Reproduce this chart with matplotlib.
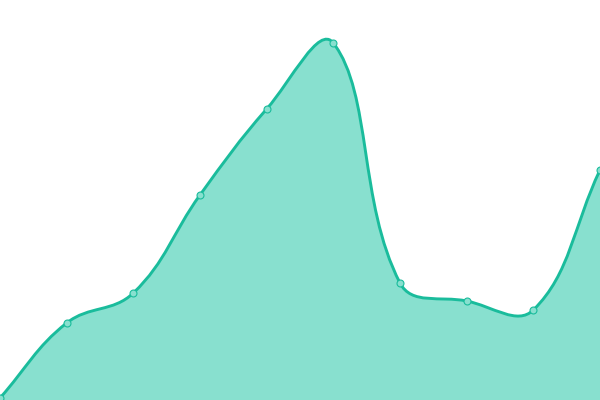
import numpy as np
import matplotlib
matplotlib.use("Agg")
import matplotlib.pyplot as plt
from matplotlib.path import Path
from matplotlib.patches import PathPatch

# ----------------- Data -----------------
labels = ["1", "2", "3", "4", "5", "6", "7", "8", "9", "10"]
values = [2, 77, 107, 205, 291, 357, 117, 99, 90, 230]

LINE_COLOR = "#1abc9c"
FILL_COLOR = "#88e0cf"
TENSION = 0.4


def spline_controls(pts, t):
    """Cardinal spline control points (chart.js style), computed in pixel space."""
    n = len(pts)
    prev_cp, next_cp = [], []
    for i in range(n):
        cur = pts[i]
        prv = pts[i - 1] if i > 0 else cur
        nxt = pts[i + 1] if i < n - 1 else cur
        d01 = np.hypot(*(cur - prv))
        d12 = np.hypot(*(nxt - cur))
        tot = d01 + d12
        s01 = d01 / tot if tot else 0
        s12 = d12 / tot if tot else 0
        v = nxt - prv
        prev_cp.append(cur - t * s01 * v)
        next_cp.append(cur + t * s12 * v)
    return prev_cp, next_cp


fig = plt.figure(figsize=(6, 4), dpi=100)
ax = fig.add_axes([0, 0, 1, 1])
ax.set_xlim(0, len(values) - 1)
ax.set_ylim(0, 400)
ax.axis("off")

x = np.arange(len(values))
data = np.column_stack([x, values]).astype(float)
pix = ax.transData.transform(data)
pcp, ncp = spline_controls(pix, TENSION)

verts = [pix[0]]
codes = [Path.MOVETO]
for i in range(1, len(pix)):
    verts += [ncp[i - 1], pcp[i], pix[i]]
    codes += [Path.CURVE4] * 3
inv = ax.transData.inverted()
curve = inv.transform(np.array(verts))

# area below the curve
fill_verts = np.vstack([curve, [[x[-1], 0], [x[0], 0], curve[0]]])
fill_codes = codes + [Path.LINETO, Path.LINETO, Path.CLOSEPOLY]
ax.add_patch(PathPatch(Path(fill_verts, fill_codes), facecolor=FILL_COLOR,
                       edgecolor="none", zorder=1))
ax.add_patch(PathPatch(Path(curve, codes), facecolor="none",
                       edgecolor=LINE_COLOR, lw=2.1, capstyle="round",
                       joinstyle="round", zorder=2))

ax.plot(x, values, linestyle="none", marker="o", markersize=5,
        markerfacecolor=FILL_COLOR, markeredgecolor=LINE_COLOR,
        markeredgewidth=0.8, zorder=3, clip_on=True)

fig.savefig("out.png", dpi=100)
